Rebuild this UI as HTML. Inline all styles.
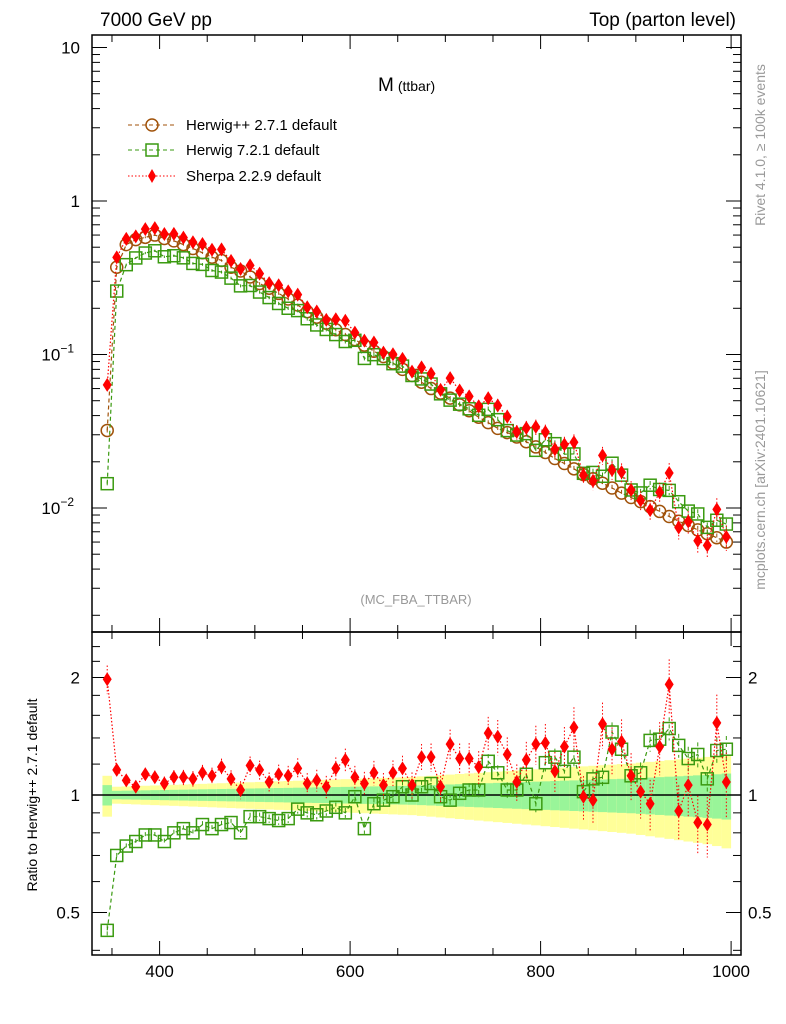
<!DOCTYPE html>
<html><head><meta charset="utf-8"><style>
body{margin:0;background:#fff;}
svg{display:block;font-family:"Liberation Sans",sans-serif;}
</style></head><body>
<svg id="c" width="786" height="1024" viewBox="0 0 786 1024" xmlns="http://www.w3.org/2000/svg">
<text x="100" y="26" font-size="19">7000 GeV pp</text>
<text x="736" y="26" font-size="19" text-anchor="end">Top (parton level)</text>
<text x="378" y="91" font-size="19">M<tspan font-size="14" dx="4">(ttbar)</tspan></text>
<text x="416" y="604" font-size="13" fill="#999" text-anchor="middle">(MC_FBA_TTBAR)</text>
<text transform="translate(765,145) rotate(-90)" font-size="14" fill="#999" text-anchor="middle">Rivet 4.1.0, ≥ 100k events</text>
<text transform="translate(765,480) rotate(-90)" font-size="14" fill="#999" text-anchor="middle">mcplots.cern.ch [arXiv:2401.10621]</text>
<text transform="translate(37,795) rotate(-90)" font-size="14" text-anchor="middle">Ratio to Herwig++ 2.7.1 default</text>
<g id="legend">
<g><line x1="128" y1="125" x2="176" y2="125" stroke="#a0520a" stroke-dasharray="4,3"/><circle cx="152" cy="125" r="6" fill="none" stroke="#a0520a" stroke-width="1.5"/><text x="186" y="130" font-size="15">Herwig++ 2.7.1 default</text></g>
<g><line x1="128" y1="150" x2="176" y2="150" stroke="#3a9a10" stroke-dasharray="4,3"/><rect x="146" y="144" width="12" height="12" fill="none" stroke="#3a9a10" stroke-width="1.5"/><text x="186" y="155" font-size="15">Herwig 7.2.1 default</text></g>
<g><line x1="128" y1="176" x2="176" y2="176" stroke="red" stroke-dasharray="1.5,2"/><path d="M152 169 L156 176 L152 183 L148 176Z" fill="red"/><text x="186" y="181" font-size="15">Sherpa 2.2.9 default</text></g>
</g>
</svg>
<script>
const binCenters=[345,355,365,375,385,395,405,415,425,435,445,455,465,475,485,495,505,515,525,535,545,555,565,575,585,595,605,615,625,635,645,655,665,675,685,695,705,715,725,735,745,755,765,775,785,795,805,815,825,835,845,855,865,875,885,895,905,915,925,935,945,955,965,975,985,995];
const herwigpp=[0.032,0.37,0.52,0.56,0.58,0.60,0.57,0.55,0.52,0.49,0.46,0.43,0.41,0.37,0.35,0.32,0.29,0.27,0.25,0.23,0.21,0.19,0.175,0.16,0.145,0.135,0.125,0.115,0.105,0.097,0.088,0.08,0.073,0.066,0.06,0.056,0.052,0.047,0.043,0.039,0.036,0.033,0.031,0.029,0.027,0.025,0.023,0.021,0.0195,0.018,0.0165,0.0155,0.0145,0.0135,0.0125,0.0117,0.011,0.0102,0.0095,0.0088,0.0082,0.0077,0.0072,0.0068,0.0064,0.006];
const herwig7Ratio=[0.45,0.70,0.74,0.76,0.79,0.79,0.76,0.80,0.82,0.80,0.84,0.82,0.84,0.85,0.80,0.88,0.88,0.87,0.86,0.87,0.92,0.90,0.89,0.91,0.93,0.90,0.99,0.82,0.95,0.97,0.99,1.05,1.00,1.05,1.07,0.99,0.97,1.01,1.03,1.03,1.22,1.14,1.03,1.03,1.13,0.95,1.21,1.25,1.15,1.25,1.02,1.10,1.11,1.45,1.31,1.12,1.14,1.38,1.39,1.48,1.34,1.24,1.27,1.10,1.30,1.31];
const sherpaRatio=[1.98,1.16,1.09,1.05,1.13,1.11,1.07,1.11,1.11,1.10,1.14,1.12,1.18,1.10,1.03,1.19,1.16,1.08,1.13,1.12,1.17,1.07,1.09,1.05,1.17,1.23,1.11,1.07,1.14,1.06,1.14,1.17,1.06,1.25,1.25,1.05,1.35,1.24,1.24,1.18,1.44,1.41,1.27,1.08,1.23,1.35,1.36,1.15,1.33,1.49,0.99,0.97,1.52,1.31,1.37,1.12,1.02,0.95,1.33,1.92,0.91,1.06,0.85,0.84,1.53,1.08];
const relErr=[0.06,0.025,0.026,0.027,0.028,0.029,0.030,0.031,0.032,0.033,0.034,0.035,0.036,0.037,0.038,0.039,0.040,0.041,0.042,0.043,0.044,0.045,0.046,0.047,0.048,0.049,0.050,0.051,0.052,0.053,0.054,0.055,0.056,0.058,0.060,0.062,0.064,0.066,0.068,0.070,0.072,0.074,0.076,0.078,0.080,0.082,0.084,0.086,0.088,0.090,0.092,0.094,0.096,0.098,0.100,0.102,0.105,0.108,0.111,0.114,0.117,0.120,0.123,0.126,0.130,0.135];
const xTicks=[400,600,800,1000];
const mainTicks=[{v:10,t:"10"},{v:1,t:"1"},{v:0.1,t:"10",e:"−1"},{v:0.01,t:"10",e:"−2"}];
const ratioTicks=[{v:2,t:"2"},{v:1,t:"1"},{v:0.5,t:"0.5"}];

const NS="http://www.w3.org/2000/svg";
const svg=document.getElementById('c');
const L=92,R=741,T=35,M=632,B=955;
const X=v=>159.6+(v-400)*0.9525;
const Y=v=>201-Math.log10(v)*153.5;
const YR=r=>795-Math.log2(r)*117.5;
function mk(tag,attrs,parent){const e=document.createElementNS(NS,tag);for(const k in attrs)e.setAttribute(k,attrs[k]);(parent||svg).appendChild(e);return e;}

// ratio bands
const bands=mk('g',{});


binCenters.forEach((c,i)=>{
  const x0=Math.max(L,X(c-5)),x1=X(c+5),s=relErr[i];
  mk('rect',{x:x0,y:YR(1+2*s),width:x1-x0,height:YR(1-2*s)-YR(1+2*s),fill:'#ffff99'},bands);
  mk('rect',{x:x0,y:YR(1+s),width:x1-x0,height:YR(1-s)-YR(1+s),fill:'#99f599'},bands);
});
mk('line',{x1:L,x2:R,y1:795,y2:795,stroke:'#000','stroke-width':1.5});

// frames
const f1=mk('rect',{x:L,y:T,width:R-L,height:M-T,fill:'none',stroke:'#000','stroke-width':1.5});


const f2=mk('rect',{x:L,y:M,width:R-L,height:B-M,fill:'none',stroke:'#000','stroke-width':1.5});



// x ticks
for(let v=350;v<=1000;v+=50){
  const major=v%200===0, len=major?14:7, x=X(v);
  [[M,M-len],[M,M+len],[B,B-len],[T,T+len]].forEach(p=>mk('line',{x1:x,x2:x,y1:p[0],y2:p[1],stroke:'#000'}));
}
xTicks.forEach(v=>{const t=mk('text',{x:X(v),y:977,'font-size':17,'text-anchor':'middle'});t.textContent=v;

});

// main y ticks
for(let d=-3;d<=1;d++)for(let m=1;m<=9;m++){
  const v=m*Math.pow(10,d),y=Y(v); if(y<T||y>M)continue;
  const len=m===1?15:8;
  mk('line',{x1:L,x2:L+len,y1:y,y2:y,stroke:'#000'});mk('line',{x1:R,x2:R-len,y1:y,y2:y,stroke:'#000'});
}
mainTicks.forEach(o=>{const t=mk('text',{x:o.e?74:80,y:Y(o.v)+6,'font-size':17,'text-anchor':'end'});t.textContent=o.t;
if(o.e){const s=mk('tspan',{dy:-8,'font-size':12},t);s.textContent=o.e;}

});
// ratio y ticks
[0.4,0.5,0.6,0.7,0.8,0.9,1,1.2,1.4,1.6,1.8,2,2.2,2.4].forEach(v=>{const y=YR(v);const len=[0.5,1,2].includes(v)?15:8;
mk('line',{x1:L,x2:L+len,y1:y,y2:y,stroke:'#000'});mk('line',{x1:R,x2:R-len,y1:y,y2:y,stroke:'#000'});});
ratioTicks.forEach(o=>{[[80,'end'],[748,'start']].forEach(p=>{const t=mk('text',{x:p[0],y:YR(o.v)+6,'font-size':17,'text-anchor':p[1]});t.textContent=o.t;

});});

function diamond(g,x,y){mk('path',{d:`M${x} ${y-7}L${x+4.5} ${y}L${x} ${y+7}L${x-4.5} ${y}Z`,fill:'red'},g);}
function series(name,vals,yf,color,dash,shape,errScale){
  const g=mk('g',{});
  
  
  mk('polyline',{points:vals.map((v,i)=>X(binCenters[i])+','+yf(v)).join(' '),fill:'none',stroke:color,'stroke-dasharray':dash,'stroke-width':1.2},g);
  vals.forEach((v,i)=>{const x=X(binCenters[i]),y=yf(v);
    if(errScale){const e=relErr[i]*errScale;mk('line',{x1:x,x2:x,y1:yf(v*(1+e)),y2:yf(v*Math.max(0.05,1-e)),stroke:color,'stroke-dasharray':dash},g);}
    if(shape==='c')mk('circle',{cx:x,cy:y,r:6,fill:'none',stroke:color,'stroke-width':1.5},g);
    else if(shape==='s')mk('rect',{x:x-6,y:y-6,width:12,height:12,fill:'none',stroke:color,'stroke-width':1.5},g);
    else diamond(g,x,y);});
}
const hw7=herwigpp.map((h,i)=>h*herwig7Ratio[i]);
const sh=herwigpp.map((h,i)=>h*sherpaRatio[i]);
series('herwigpp-main',herwigpp,Y,'#a0520a','4,3','c',0.5);
series('herwig7-main',hw7,Y,'#3a9a10','4,3','s',0.6);
series('sherpa-main',sh,Y,'red','1.5,2','d',1.4);
series('herwig7-ratio',herwig7Ratio,YR,'#3a9a10','4,3','s',0.6);
series('sherpa-ratio',sherpaRatio,YR,'red','1.5,2','d',1.4);
</script>
</body></html>
